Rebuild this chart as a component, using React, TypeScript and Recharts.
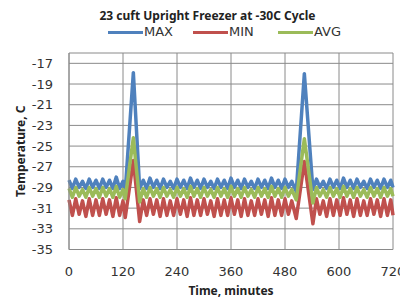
import { LineChart, Line, XAxis, YAxis, CartesianGrid, Legend, Label } from "recharts";

// time of each reading, minutes
const minutes = [
  0, 7.5, 15, 22.5, 30, 37.5, 45, 52.5, 60, 67.5, 75, 82.5, 90, 97.5, 105, 112.5, 120,
  125, 143, 157,
  165, 172.5, 180, 187.5, 195, 202.5, 210, 217.5, 225, 232.5, 240, 247.5, 255, 262.5, 270,
  277.5, 285, 292.5, 300, 307.5, 315, 322.5, 330, 337.5, 345, 352.5, 360, 367.5, 375, 382.5,
  390, 397.5, 405, 412.5, 420, 427.5, 435, 442.5, 450, 457.5, 465, 472.5, 480, 487.5, 495,
  505, 523, 542,
  550, 557.5, 565, 572.5, 580, 587.5, 595, 602.5, 610, 617.5, 625, 632.5, 640, 647.5, 655,
  662.5, 670, 677.5, 685, 692.5, 700, 707.5, 715, 720,
];

const maxTemp = [
  -28.3, -29.1, -28.2, -29.0, -28.4, -29.1, -28.2, -29.0, -28.3, -29.1, -28.2, -29.0, -28.3, -29.1, -28.0, -29.1, -28.4,
  -29.3, -17.9, -29.1,
  -28.3, -29.1, -28.1, -29.0, -28.3, -29.1, -28.2, -29.0, -28.4, -29.1,
  -28.2, -29.0, -28.3, -29.1, -28.1, -29.0, -28.3, -29.1, -28.2, -29.0,
  -28.4, -29.1, -28.2, -29.0, -28.3, -29.1, -28.1, -29.0, -28.3, -29.1,
  -28.2, -29.0, -28.4, -29.1, -28.2, -29.0, -28.3, -29.1, -28.1, -29.0,
  -28.3, -29.1, -28.2, -29.0, -28.4,
  -29.4, -18.0, -29.2,
  -28.2, -29.0, -28.4, -29.1, -28.2, -29.0, -28.3, -29.1, -28.1, -29.0, -28.3, -29.1,
  -28.2, -29.0, -28.4, -29.1, -28.2, -29.0, -28.3, -29.1, -28.2, -29.0, -28.3, -29.0,
];

const minTemp = [
  -30.2, -31.7, -30.1, -31.6, -30.3, -31.8, -30.1, -31.7, -30.2, -31.7, -30.1, -31.6, -30.2, -31.8, -30.0, -31.7, -30.3,
  -31.9, -26.4, -32.3,
  -30.2, -31.7, -30.1, -31.6, -30.2, -31.8, -30.1, -31.7, -30.3, -31.7,
  -30.1, -31.6, -30.2, -31.8, -30.0, -31.7, -30.2, -31.7, -30.1, -31.6,
  -30.3, -31.8, -30.1, -31.7, -30.2, -31.7, -30.0, -31.6, -30.2, -31.8,
  -30.1, -31.7, -30.3, -31.7, -30.1, -31.6, -30.2, -31.8, -30.0, -31.7,
  -30.2, -31.7, -30.1, -31.6, -30.3,
  -32.0, -26.5, -32.5,
  -30.1, -31.6, -30.3, -31.8, -30.1, -31.7, -30.2, -31.7, -30.0, -31.6, -30.2, -31.8,
  -30.1, -31.7, -30.3, -31.7, -30.1, -31.6, -30.2, -31.8, -30.1, -31.7, -30.2, -31.7,
];

const avgTemp = [
  -29.1, -29.95, -29.0, -29.85, -29.2, -29.95, -29.0, -29.85, -29.1, -29.95, -29.0, -29.85, -29.1, -29.95, -28.9, -29.95, -29.2,
  -30.1, -24.2, -30.4,
  -29.1, -29.95, -29.0, -29.85, -29.1, -29.95, -29.0, -29.85, -29.2, -29.95,
  -29.0, -29.85, -29.1, -29.95, -28.9, -29.85, -29.1, -29.95, -29.0, -29.85,
  -29.2, -29.95, -29.0, -29.85, -29.1, -29.95, -28.9, -29.85, -29.1, -29.95,
  -29.0, -29.85, -29.2, -29.95, -29.0, -29.85, -29.1, -29.95, -28.9, -29.85,
  -29.1, -29.95, -29.0, -29.85, -29.2,
  -30.2, -24.3, -30.5,
  -29.0, -29.85, -29.2, -29.95, -29.0, -29.85, -29.1, -29.95, -28.9, -29.85, -29.1, -29.95,
  -29.0, -29.85, -29.2, -29.95, -29.0, -29.85, -29.1, -29.95, -29.0, -29.85, -29.1, -29.85,
];

const seriesOrder = ["MAX", "MIN", "AVG"];
const timeTicks = [0, 120, 240, 360, 480, 600, 720];
const tempTicks = [-35, -33, -31, -29, -27, -25, -23, -21, -19, -17];

const rows = minutes.map((t, i) => ({
  t,
  MAX: maxTemp[i],
  MIN: minTemp[i],
  AVG: avgTemp[i],
}));

const gridColor = "#8a8a8a";
const tickStyle = { fontFamily: "DejaVu Sans", fontSize: 13, fill: "#333" };

const renderLegend = (props: any) => {
  const items = [...(props.payload || [])].sort(
    (a: any, b: any) => seriesOrder.indexOf(a.value) - seriesOrder.indexOf(b.value)
  );
  return (
    <div style={{ display: "flex", alignItems: "center", fontFamily: "DejaVu Sans", fontSize: 13, color: "#333", lineHeight: "16px" }}>
      {items.map((p: any) => (
        <div key={p.value} style={{ display: "flex", alignItems: "center", width: 85 }}>
          <span style={{ display: "inline-block", width: 35, height: 3, background: p.color, marginRight: 1 }} />
          <span>{p.value}</span>
        </div>
      ))}
    </div>
  );
};

export default function App() {
  return (
    <div style={{ position: "absolute", left: 0, top: 0, width: 400, height: 299, background: "#fff" }}>
      <div
        style={{
          position: "absolute",
          top: 8,
          left: 0,
          width: 415,
          textAlign: "center",
          fontFamily: "Noto Sans",
          fontWeight: "bold",
          fontSize: 12,
          lineHeight: "16px",
          color: "#222",
        }}
      >
        23 cuft Upright Freezer at -30C Cycle
      </div>
      <LineChart width={400} height={299} data={rows} margin={{ top: 53, right: 7, bottom: 0, left: 0 }}>
        <CartesianGrid stroke={gridColor} strokeWidth={1} />
        <XAxis
          dataKey="t"
          type="number"
          domain={[0, 720]}
          ticks={timeTicks}
          interval={0}
          height={49.5}
          stroke={gridColor}
          tickLine={false}
          tickSize={6}
          tickMargin={11}
          tick={tickStyle}
        >
          <Label
            value="Time, minutes"
            position="insideBottom"
            offset={4}
            style={{ fontFamily: "Noto Sans", fontWeight: "bold", fontSize: 12, fill: "#222" }}
          />
        </XAxis>
        <YAxis
          type="number"
          domain={[-35, -16]}
          ticks={tempTicks}
          interval={0}
          width={69}
          stroke={gridColor}
          tickLine={false}
          tickSize={6}
          tickMargin={10}
          tick={tickStyle}
          allowDataOverflow
        >
          <Label
            content={({ viewBox }: any) => {
              const cx = 20;
              const cy = viewBox.y + viewBox.height / 2;
              return (
                <text
                  x={cx}
                  y={cy}
                  transform={`rotate(-90 ${cx} ${cy})`}
                  textAnchor="middle"
                  dominantBaseline="central"
                  style={{ fontFamily: "Noto Sans", fontWeight: "bold", fontSize: 12, fill: "#222" }}
                >
                  Temperature, C
                </text>
              );
            }}
          />
        </YAxis>
        <Legend
          layout="horizontal"
          verticalAlign="middle"
          align="center"
          content={renderLegend}
          wrapperStyle={{ top: 24, left: 108, width: 300 }}
        />
        <Line type="linear" dataKey="MAX" stroke="#4f81bd" strokeWidth={3.5} strokeLinejoin="round" dot={false} isAnimationActive={false} />
        <Line type="linear" dataKey="MIN" stroke="#c0504d" strokeWidth={3.5} strokeLinejoin="round" dot={false} isAnimationActive={false} />
        <Line type="linear" dataKey="AVG" stroke="#9bbb59" strokeWidth={3.5} strokeLinejoin="round" dot={false} isAnimationActive={false} />
      </LineChart>
    </div>
  );
}
